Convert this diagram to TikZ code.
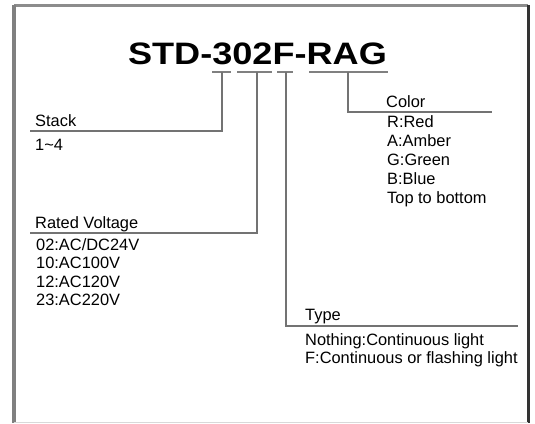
\documentclass[tikz,border=0pt]{standalone}
\usepackage{fontspec}
\setmainfont{Liberation Sans}
\usepackage{graphicx}

\tikzset{
  lead/.style={draw=black!55, line width=1.3pt},
  underl/.style={draw=black!50, line width=1.1pt},
  txt/.style={anchor=base west, inner sep=0pt, font=\fontsize{16.4}{18}\selectfont},
  codetxt/.style={anchor=base, inner sep=0pt, font=\fontsize{31}{31}\selectfont\bfseries}
}

\begin{document}
\begin{tikzpicture}[x=1pt, y=-1pt]

\useasboundingbox (0,0) rectangle (535,423);
\fill[white] (0,0) rectangle (535,423);

% frame
\draw[black!45, line width=3pt] (14,5) -- (528,5);
\draw[black!50, line width=4pt] (14,5) -- (14,423);
\draw[black!80, line width=3pt] (528,5) -- (528,423);
\draw[black!15, line width=1pt] (14,422) -- (528,422);

\node[codetxt] (code) at (257.5,64) {\scalebox{1.165}[1]{STD-302F-RAG}};

% stack
\coordinate (u3w) at (212,72);
\coordinate (u3e) at (231,72);
\coordinate (u3) at (222,72);
\coordinate (stackl) at (30,131);
\draw[underl] (u3w) -- (u3e);
\draw[lead] (u3) |- (stackl);
\node[txt] (stack) at (35,126) {Stack};
\node[txt] (stackv) at (35,150) {1\textasciitilde 4};

% rated voltage
\coordinate (u02w) at (237,72);
\coordinate (u02e) at (272,72);
\coordinate (u02) at (257,72);
\coordinate (voltl) at (30,233);
\draw[underl] (u02w) -- (u02e);
\draw[lead] (u02) |- (voltl);
\node[txt] (volt) at (35,228) {Rated Voltage};
\node[txt] (volta) at (36,250) {02:AC/DC24V};
\node[txt] (voltb) at (36,268.5) {10:AC100V};
\node[txt] (voltc) at (36,287) {12:AC120V};
\node[txt] (voltd) at (36,305.5) {23:AC220V};

% type
\coordinate (ufw) at (277,72);
\coordinate (ufe) at (293,72);
\coordinate (uf) at (286,72);
\coordinate (typer) at (518,326);
\draw[underl] (ufw) -- (ufe);
\draw[lead] (uf) |- (typer);
\node[txt] (type) at (305,320) {Type};
\node[txt] (typea) at (305,345) {Nothing:Continuous light};
\node[txt] (typeb) at (305,363) {F:Continuous or flashing light};

% color
\coordinate (ucw) at (309,72);
\coordinate (uce) at (388,72);
\coordinate (uc) at (348,72);
\coordinate (colorr) at (492,112);
\draw[underl] (ucw) -- (uce);
\draw[lead] (uc) |- (colorr);
\node[txt] (color) at (386,107) {Color};
\node[txt] (colora) at (387,127) {R:Red};
\node[txt] (colorb) at (387,146) {A:Amber};
\node[txt] (colorc) at (387,165) {G:Green};
\node[txt] (colord) at (387,184) {B:Blue};
\node[txt] (colore) at (387,203) {Top to bottom};

\end{tikzpicture}
\end{document}
